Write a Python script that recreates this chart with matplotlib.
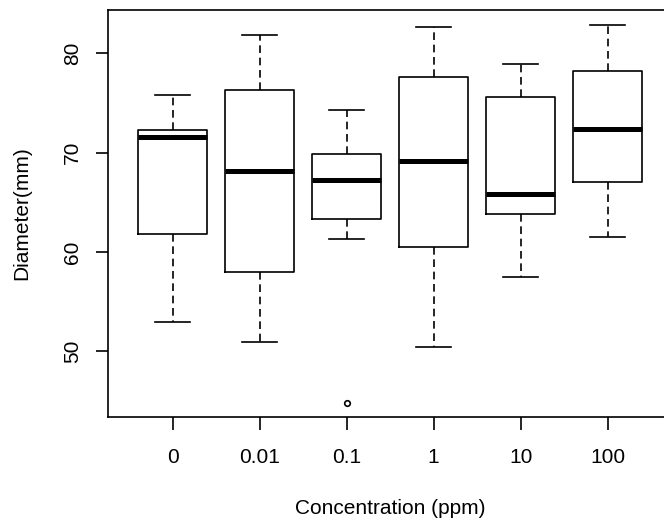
import numpy as np
import matplotlib.pyplot as plt

plt.rcParams['font.family'] = ['Liberation Sans', 'DejaVu Sans']

# values
concentrations = ['0', '0.01', '0.1', '1', '10', '100']
whisker_low = [52.9, 50.9, 61.3, 50.4, 57.5, 61.5]
q1 = [61.8, 58.0, 63.3, 60.45, 63.8, 67.0]
medians = [71.6, 68.2, 67.2, 69.15, 65.8, 72.4]
q3 = [72.3, 76.3, 69.85, 77.6, 75.6, 78.2]
whisker_high = [75.8, 81.8, 74.25, 82.7, 78.95, 82.85]
outliers = [[], [], [44.83], [], [], []]

stats = []
for i, lab in enumerate(concentrations):
    stats.append(dict(label=lab, whislo=whisker_low[i], q1=q1[i], med=medians[i],
                      q3=q3[i], whishi=whisker_high[i], fliers=outliers[i]))

fig = plt.figure(figsize=(6.64, 5.19), dpi=100)
ax = fig.add_axes([0.1631, 0.1965, 0.849, 0.7842])

lw = 1.2
ax.bxp(stats, positions=np.arange(1, 7), widths=0.8, capwidths=0.4,
       boxprops=dict(color='black', lw=lw),
       medianprops=dict(color='black', lw=3.6, solid_capstyle='butt'),
       whiskerprops=dict(color='black', lw=lw, linestyle=(0, (4.6, 2.8))),
       capprops=dict(color='black', lw=lw),
       flierprops=dict(marker='o', markerfacecolor='none', markeredgecolor='black',
                       markersize=4, markeredgewidth=1.2))

ax.set_xlim(0.26, 6.74)
ax.set_ylim(43.38, 84.36)
ax.set_xticks(np.arange(1, 7), concentrations)
ax.set_yticks([50, 60, 70, 80])
ax.tick_params(length=9, width=lw, labelsize=15)
ax.tick_params(axis='x', pad=13.5)
ax.tick_params(axis='y', pad=10)
for t in ax.get_yticklabels():
    t.set_rotation(90)
    t.set_va('center')
for s in ax.spines.values():
    s.set_linewidth(lw)

ax.set_xlabel('Concentration (ppm)', fontsize=15, labelpad=22.5)
ax.set_ylabel('Diameter(mm)', fontsize=15, labelpad=23)

fig.savefig('out.png', dpi=100)
